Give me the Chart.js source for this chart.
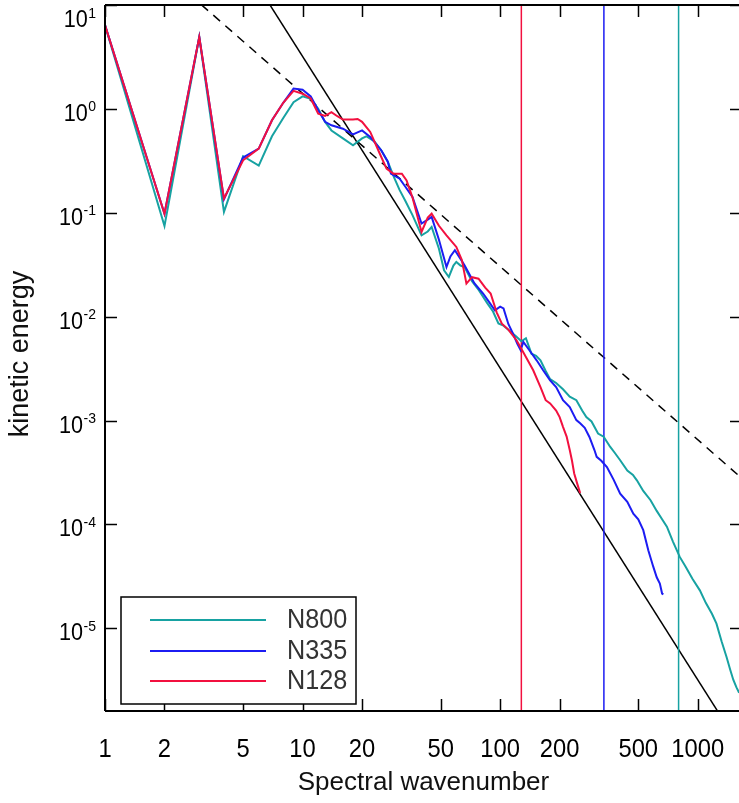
<!DOCTYPE html>
<html>
<head>
<meta charset="utf-8">
<script src="https://cdn.jsdelivr.net/npm/chart.js@4.4.1/dist/chart.umd.min.js"></script>
<style>
  html, body { margin: 0; padding: 0; background: #fff; overflow: hidden; }
  #wrap { width: 742px; height: 803px; }
</style>
</head>
<body>
<div id="wrap"><canvas id="spectrum" width="742" height="803"></canvas></div>
<script>
// spectra (wavenumber, kinetic energy)
const n800K = [1, 2, 3, 4, 5, 6, 7, 8, 9, 10, 11, 12, 13, 14, 16, 18, 20, 21, 23, 25, 27, 29, 31, 33, 36, 40, 43, 45, 49, 52, 55, 58, 60, 63, 66, 72, 78, 86, 92, 98, 104, 110, 121, 128, 135, 144, 152, 160, 170, 179, 192, 208, 225, 243, 260, 273, 290, 313, 334, 360, 380, 405, 440, 470, 492, 530, 577, 620, 660, 698, 750, 811, 870, 940, 1025, 1100, 1180, 1244, 1320, 1399, 1460, 1513, 1570, 1620];
const n800E = [6.4, 0.0746, 4.92, 0.102, 0.35, 0.284, 0.545, 0.82, 1.16, 1.32, 1.25, 1.0, 0.75, 0.62, 0.52, 0.447, 0.52, 0.545, 0.49, 0.40, 0.31, 0.22, 0.165, 0.132, 0.095, 0.0607, 0.066, 0.073, 0.045, 0.028, 0.0241, 0.031, 0.0336, 0.031, 0.030, 0.022, 0.018, 0.0135, 0.0112, 0.0086, 0.0082, 0.0075, 0.0064, 0.0058, 0.0062, 0.0044, 0.0042, 0.0038, 0.0030, 0.0025, 0.0023, 0.0020, 0.0017, 0.00157, 0.00125, 0.00108, 0.00098, 0.00075, 0.00070, 0.00056, 0.00049, 0.000415, 0.00033, 0.00030, 0.000266, 0.00021, 0.000171, 0.000135, 0.000112, 0.000095, 0.000068, 0.0000487, 0.000039, 0.000030, 0.0000232, 0.0000175, 0.0000138, 0.0000111, 0.0000075, 0.0000053, 0.0000040, 0.0000032, 0.0000027, 0.0000024];

const n335K = [1, 2, 3, 4, 5, 6, 7, 8, 9, 10, 11, 12, 13, 14, 16, 18, 20, 22, 25, 27, 28, 31, 33, 36, 40, 43, 45, 49, 53.5, 56, 59, 63, 66, 74, 82, 88, 94, 100, 104, 110, 116, 122, 127, 131, 140, 153, 165, 179, 192, 208, 225, 243, 254, 268, 283, 300, 308, 325, 347, 375, 405, 440, 472, 500, 530, 562, 596, 620, 643, 660, 670];
const n335E = [6.4, 0.098, 4.92, 0.135, 0.34, 0.415, 0.776, 1.15, 1.57, 1.53, 1.32, 0.97, 0.75, 0.695, 0.645, 0.569, 0.62, 0.537, 0.40, 0.31, 0.238, 0.213, 0.18, 0.142, 0.0787, 0.086, 0.0912, 0.055, 0.030, 0.038, 0.0436, 0.036, 0.0313, 0.021, 0.0167, 0.0138, 0.0115, 0.0125, 0.012, 0.0085, 0.0069, 0.0055, 0.00475, 0.0057, 0.0048, 0.0038, 0.00305, 0.00244, 0.0021, 0.00157, 0.00135, 0.00101, 0.00094, 0.00085, 0.000695, 0.00052, 0.000447, 0.00041, 0.000357, 0.00027, 0.000198, 0.000165, 0.000127, 0.000112, 0.000088, 0.0000565, 0.000039, 0.000031, 0.000027, 0.0000216, 0.0000212];

const n128K = [1, 2, 3, 4, 5, 6, 7, 8, 9, 10, 11, 12, 13, 14, 15, 16, 18, 19, 20, 22, 24.6, 26.6, 28.8, 31.8, 33.6, 36, 40, 43, 45, 49, 53.5, 60, 64, 67.5, 72, 77.7, 84, 89.5, 96, 102, 110, 121, 128, 135, 147, 160, 170, 179, 192, 200, 208, 217, 225, 231, 237, 245, 254];
const n128E = [6.4, 0.098, 4.92, 0.137, 0.32, 0.415, 0.776, 1.15, 1.49, 1.40, 1.26, 0.90, 0.855, 0.93, 0.85, 0.79, 0.79, 0.80, 0.75, 0.60, 0.37, 0.266, 0.238, 0.238, 0.205, 0.14, 0.0653, 0.09, 0.098, 0.075, 0.0607, 0.0469, 0.035, 0.0208, 0.024, 0.0232, 0.019, 0.0167, 0.011, 0.00857, 0.0075, 0.00593, 0.0049, 0.0041, 0.00305, 0.0021, 0.00157, 0.00146, 0.00125, 0.00108, 0.00087, 0.00070, 0.00052, 0.00041, 0.000309, 0.00025, 0.0002];

// reference slopes: k^-5/3 (dashed) and k^-3 (solid), end points
const guideK = [1, 1675];
const slope53E = [65.4, 0.000277];
const slope3E = [3200, 0.00000068];

// truncation wavenumbers (vertical lines)
const truncK = [128, 335, 800];

const xTicks = [1, 2, 5, 10, 20, 50, 100, 200, 500, 1000];
const yExponents = [1, 0, -1, -2, -3, -4, -5];
const yMin = 1.6e-6, yMax = 10, xMin = 1, xMax = 1675;

const teal = '#17a2a2', blue = '#1c1cf2', red = '#f2103f';

const toPts = (ks, es) => ks.map((k, i) => ({ x: k, y: es[i] }));
const vLine = k => [{ x: k, y: yMin }, { x: k, y: yMax }];

const FONT = '"Liberation Sans", Arial, Helvetica, sans-serif';

function drawText(ctx, text, x, y, size, align, squeeze, color) {
  ctx.save();
  ctx.font = size + 'px ' + FONT;
  ctx.fillStyle = color || '#000';
  ctx.textAlign = align;
  ctx.textBaseline = 'alphabetic';
  ctx.translate(x, y);
  ctx.scale(squeeze, 1);
  ctx.fillText(text, 0, 0);
  ctx.restore();
}

function textWidth(ctx, text, size, squeeze) {
  ctx.save();
  ctx.font = size + 'px ' + FONT;
  const w = ctx.measureText(text).width * squeeze;
  ctx.restore();
  return w;
}

// frame, inward ticks, tick labels, titles, legend
const decorations = {
  id: 'decorations',
  afterDraw(chart) {
    const { ctx, chartArea: a, scales: { x, y } } = chart;
    ctx.save();
    ctx.strokeStyle = '#000';
    ctx.lineWidth = 2;
    ctx.beginPath();
    ctx.moveTo(a.left, a.top); ctx.lineTo(a.right, a.top);
    ctx.moveTo(a.left, a.top); ctx.lineTo(a.left, a.bottom);
    ctx.moveTo(a.left, a.bottom); ctx.lineTo(a.right, a.bottom);
    ctx.moveTo(a.right, a.top); ctx.lineTo(a.right, a.bottom);
    ctx.stroke();

    ctx.lineWidth = 1.5;
    ctx.beginPath();
    xTicks.forEach(v => {
      const px = Math.round(x.getPixelForValue(v)) + 0.5;
      ctx.moveTo(px, a.bottom); ctx.lineTo(px, a.bottom - 12);
      ctx.moveTo(px, a.top); ctx.lineTo(px, a.top + 12);
    });
    yExponents.forEach(e => {
      const py = Math.round(y.getPixelForValue(Math.pow(10, e))) + 0.5;
      ctx.moveTo(a.left, py); ctx.lineTo(a.left + 12, py);
      ctx.moveTo(a.right, py); ctx.lineTo(a.right - 12, py);
    });
    ctx.stroke();
    ctx.restore();

    xTicks.forEach(v => {
      drawText(ctx, String(v), x.getPixelForValue(v), 757, 25, 'center', 0.95);
    });
    yExponents.forEach(e => {
      const py = y.getPixelForValue(Math.pow(10, e));
      const base = Math.max(py + 12, 27);
      const exp = String(e);
      const ew = textWidth(ctx, exp, 14, 1);
      drawText(ctx, exp, 96, base - 9.5, 14, 'right', 1);
      drawText(ctx, '10', 96 - ew - 0.5, base, 23, 'right', 0.94);
    });

    drawText(ctx, 'Spectral wavenumber', (a.left + 742) / 2, 790, 26, 'center', 1, '#111');
    ctx.save();
    ctx.translate(28, 354);
    ctx.rotate(-Math.PI / 2);
    drawText(ctx, 'kinetic energy', 0, 0, 27, 'center', 1, '#111');
    ctx.restore();

    // legend
    ctx.save();
    ctx.fillStyle = '#fff';
    ctx.fillRect(121, 597, 235, 107);
    ctx.strokeStyle = '#000';
    ctx.lineWidth = 1.5;
    ctx.strokeRect(121, 597, 235, 107);
    const rows = [['N800', teal, 620, 628], ['N335', blue, 651, 658.5], ['N128', red, 681, 689]];
    rows.forEach(([label, color, ly, by]) => {
      ctx.strokeStyle = color;
      ctx.lineWidth = 2;
      ctx.beginPath();
      ctx.moveTo(150, ly); ctx.lineTo(266, ly);
      ctx.stroke();
      drawText(ctx, label, 287, by, 28, 'left', 0.9, '#333');
    });
    ctx.restore();
  }
};

const curve = (label, pts, color, order) => ({
  label, data: pts, borderColor: color, borderWidth: 2,
  showLine: true, pointRadius: 0, tension: 0, order
});

const guide = (pts, color, dash, order) => ({
  data: pts, borderColor: color, borderWidth: 1.5, borderDash: dash,
  showLine: true, pointRadius: 0, tension: 0, order
});

const chart = new Chart(document.getElementById('spectrum'), {
  type: 'scatter',
  data: {
    datasets: [
      curve('N128', toPts(n128K, n128E), red, 0),
      curve('N335', toPts(n335K, n335E), blue, 1),
      curve('N800', toPts(n800K, n800E), teal, 2),
      guide(toPts(guideK, slope53E), '#000', [9, 7], 5),
      guide(toPts(guideK, slope3E), '#000', [], 5),
      guide(vLine(truncK[0]), red, [], 4),
      guide(vLine(truncK[1]), blue, [], 4),
      guide(vLine(truncK[2]), teal, [], 4)
    ]
  },
  options: {
    responsive: false,
    animation: false,
    devicePixelRatio: 1,
    layout: { padding: { top: 5, left: 0, right: 0, bottom: 0 } },
    plugins: { legend: { display: false }, tooltip: { enabled: false } },
    scales: {
      x: {
        type: 'logarithmic', min: xMin, max: xMax,
        grid: { display: false }, border: { display: false },
        ticks: { display: false },
        afterFit: s => { s.height = 92; }
      },
      y: {
        type: 'logarithmic', min: yMin, max: yMax,
        grid: { display: false }, border: { display: false },
        ticks: { display: false },
        afterFit: s => { s.width = 105; }
      }
    }
  },
  plugins: [decorations]
});
</script>
</body>
</html>
